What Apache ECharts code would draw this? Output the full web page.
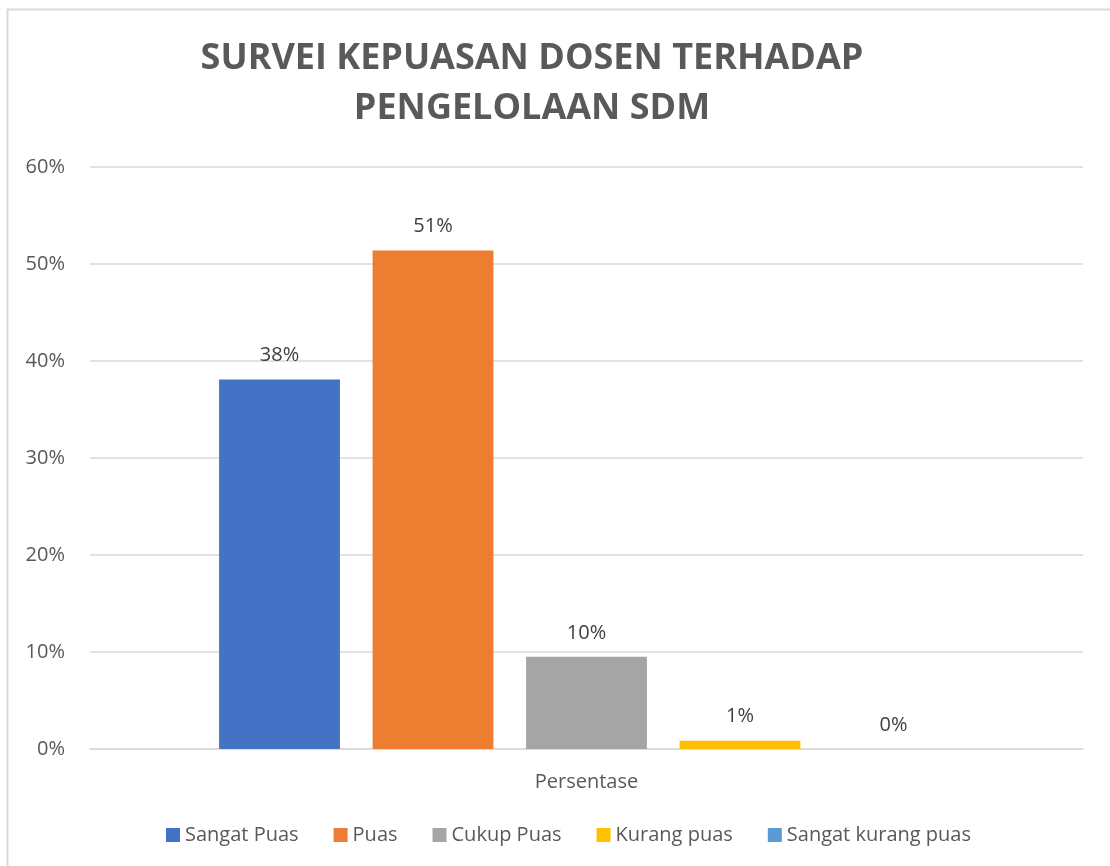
<!DOCTYPE html>
<html>
<head>
<meta charset="utf-8">
<script src="https://cdn.jsdelivr.net/npm/echarts@6/dist/echarts.min.js"></script>
<style>
  html, body { margin: 0; padding: 0; background: #fff; }
  #chart { width: 1110px; height: 866px; }
</style>
</head>
<body>
<div id="chart"></div>
<script>
const categories = ["Persentase"];
const seriesNames = ["Sangat Puas", "Puas", "Cukup Puas", "Kurang puas", "Sangat kurang puas"];
const seriesValues = [38.1, 51.4, 9.5, 0.85, 0];
const seriesColors = ["#4472C4", "#ED7D31", "#A5A5A5", "#FFC000", "#5B9BD5"];

const font = "'Open Sans', 'Noto Sans', sans-serif";

const chart = echarts.init(document.getElementById("chart"));
chart.setOption({
  animation: false,
  title: {
    text: "SURVEI KEPUASAN DOSEN TERHADAP\nPENGELOLAAN SDM",
    left: 527,
    textAlign: "center",
    top: 29,
    textStyle: {
      fontFamily: font,
      fontWeight: "bold",
      fontSize: 36,
      lineHeight: 50,
      color: "#595959"
    }
  },
  graphic: [{
    type: "rect",
    shape: { x: 7.5, y: 9.5, width: 1200, height: 1000 },
    style: { fill: "none", stroke: "#D9D9D9", lineWidth: 2 },
    silent: true
  }],
  legend: {
    bottom: 16,
    left: 161,
    itemWidth: 14,
    itemHeight: 14,
    itemGap: 35,
    icon: "rect",
    textStyle: { fontFamily: font, fontSize: 20, color: "#595959" },
    data: seriesNames
  },
  grid: { left: 90, right: 27, top: 167, bottom: 117 },
  xAxis: {
    type: "category",
    data: categories,
    axisLine: { lineStyle: { color: "#D9D9D9", width: 1.5 } },
    axisTick: { show: false },
    axisLabel: { fontFamily: font, fontSize: 20, color: "#595959", margin: 23 }
  },
  yAxis: {
    type: "value",
    min: 0,
    max: 60,
    interval: 10,
    axisLine: { show: false },
    axisTick: { show: false },
    splitLine: { lineStyle: { color: "#D9D9D9", width: 1.5 } },
    axisLabel: {
      fontFamily: font, fontSize: 20, color: "#595959", margin: 25,
      formatter: v => v + "%"
    }
  },
  series: seriesNames.map((name, i) => ({
    name: name,
    type: "bar",
    data: [seriesValues[i]],
    barGap: "27%",
    barCategoryGap: "26%",
    itemStyle: { color: seriesColors[i] },
    label: {
      show: true,
      position: "top",
      distance: 14,
      fontFamily: font,
      fontSize: 20,
      color: "#404040",
      formatter: p => Math.round(p.value) + "%"
    }
  }))
});
</script>
</body>
</html>
